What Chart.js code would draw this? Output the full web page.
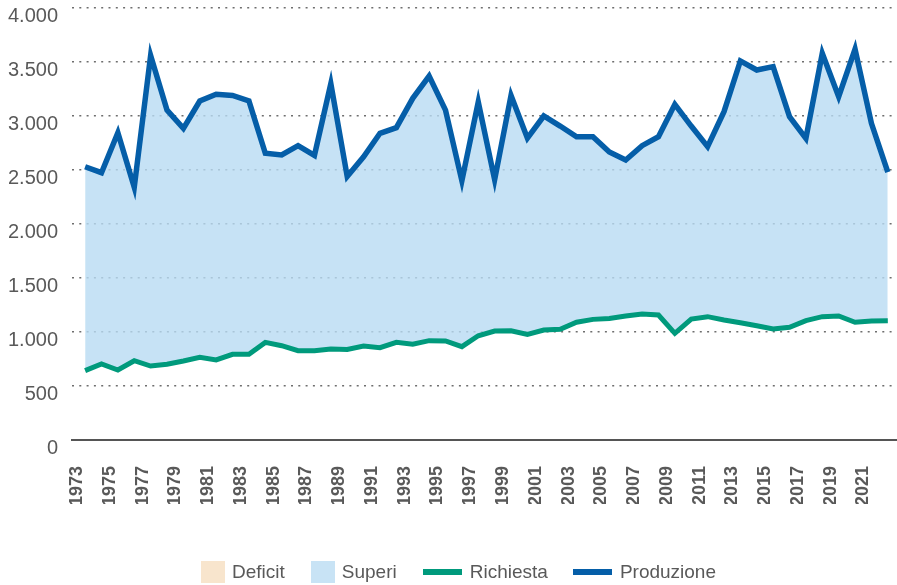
<!DOCTYPE html>
<html>
<head>
<meta charset="utf-8">
<script src="https://cdn.jsdelivr.net/npm/chart.js@4"></script>
<style>
    body { margin: 0; background: #fff; }
    #wrap { position: relative; width: 897px; height: 585px; }
    #legend {
        position: absolute; left: 201px; top: 561px; height: 22px;
        display: flex; align-items: center;
        font: 19px "Liberation Sans", Arial, sans-serif; color: #595959;
    }
    .item { display: flex; align-items: center; }
    .box { width: 24px; height: 22px; margin-right: 7px; }
    .line { width: 39px; height: 6px; margin-right: 8px; }
</style>
</head>
<body>
<div id="wrap">
    <canvas id="myChart"></canvas>
    <div id="legend"></div>
</div>
<script>
// anni 1973 - 2022
const years = [1973, 1974, 1975, 1976, 1977, 1978, 1979, 1980, 1981, 1982,
    1983, 1984, 1985, 1986, 1987, 1988, 1989, 1990, 1991, 1992,
    1993, 1994, 1995, 1996, 1997, 1998, 1999, 2000, 2001, 2002,
    2003, 2004, 2005, 2006, 2007, 2008, 2009, 2010, 2011, 2012,
    2013, 2014, 2015, 2016, 2017, 2018, 2019, 2020, 2021, 2022];

const produzione = [2530, 2475, 2845, 2340, 3560, 3055, 2886, 3139, 3201, 3190,
    3140, 2655, 2640, 2725, 2635, 3300, 2440, 2623, 2840, 2892,
    3164, 3370, 3055, 2400, 3130, 2410, 3190, 2795, 3000, 2907,
    2808, 2808, 2667, 2593, 2725, 2808, 3108, 2907, 2716, 3040,
    3510, 3426, 3457, 2994, 2793, 3580, 3179, 3620, 2932, 2480];

const richiesta = [642, 704, 648, 734, 685, 701, 731, 765, 741, 793,
    793, 904, 873, 827, 827, 843, 838, 870, 855, 904,
    886, 920, 917, 864, 965, 1009, 1012, 978, 1018, 1025,
    1090, 1117, 1126, 1148, 1167, 1157, 988, 1120, 1142, 1111,
    1086, 1058, 1028, 1043, 1105, 1142, 1148, 1090, 1102, 1105];

// tick labels sull'asse x (anni dispari)
const tickYears = [1973, 1975, 1977, 1979, 1981, 1983, 1985, 1987, 1989, 1991,
    1993, 1995, 1997, 1999, 2001, 2003, 2005, 2007, 2009, 2011,
    2013, 2015, 2017, 2019, 2021];

const yTicks = [0, 500, 1000, 1500, 2000, 2500, 3000, 3500, 4000];

const colors = {
    deficit: '#f8e5cd',
    superi: 'rgba(184, 219, 243, 0.8)',
    superiLegend: '#c8e3f5',
    richiesta: '#009a7c',
    produzione: '#055ea8',
    text: '#595959'
};

const legendItems = [
    { label: 'Deficit', color: colors.deficit, type: 'box' },
    { label: 'Superi', color: colors.superiLegend, type: 'box' },
    { label: 'Richiesta', color: colors.richiesta, type: 'line' },
    { label: 'Produzione', color: colors.produzione, type: 'line' }
];

function fmt(v) {
    return String(v).replace(/\B(?=(\d{3})+(?!\d))/g, '.');
}

document.addEventListener('DOMContentLoaded', function () {
    const legend = document.getElementById('legend');
    legendItems.forEach((it, i) => {
        const el = document.createElement('div');
        el.className = 'item';
        if (i < legendItems.length - 1) el.style.marginRight = it.type === 'box' ? '26px' : '25px';
        el.innerHTML = '<span class="' + it.type + '" style="background:' + it.color + '"></span><span>' + it.label + '</span>';
        legend.appendChild(el);
    });

    const ctx = document.getElementById('myChart').getContext('2d');
    window.myChart = new Chart(ctx, {
        type: 'line',
        data: {
            datasets: [
                {
                    label: 'Produzione',
                    data: years.map((y, i) => ({ x: y, y: produzione[i] })),
                    borderColor: colors.produzione,
                    borderWidth: 5.5,
                    borderJoinStyle: 'miter',
                    pointRadius: 0,
                    tension: 0,
                    fill: { target: 1, above: colors.superi, below: colors.deficit }
                },
                {
                    label: 'Richiesta',
                    data: years.map((y, i) => ({ x: y, y: richiesta[i] })),
                    borderColor: colors.richiesta,
                    borderWidth: 5,
                    borderJoinStyle: 'miter',
                    pointRadius: 0,
                    tension: 0,
                    fill: false
                }
            ]
        },
        options: {
            responsive: true,
            maintainAspectRatio: false,
            animation: false,
            layout: { autoPadding: false, padding: { left: 8, right: 1, top: 8, bottom: 81 } },
            plugins: {
                legend: { display: false },
                tooltip: { enabled: false },
                filler: { drawTime: 'beforeDatasetsDraw' }
            },
            scales: {
                x: {
                    type: 'linear',
                    min: 1972.2,
                    max: 2022.5,
                    afterBuildTicks: function (scale) {
                        scale.ticks = tickYears.map(v => ({ value: v }));
                    },
                    afterFit: function (scale) {
                        scale.height = 64;
                        scale.paddingLeft = 0;
                        scale.paddingRight = 0;
                    },
                    grid: { display: false, drawTicks: false },
                    border: { display: true, color: '#555', width: 2 },
                    ticks: {
                        autoSkip: false,
                        minRotation: 90,
                        maxRotation: 90,
                        padding: 26,
                        labelOffset: -8,
                        color: colors.text,
                        font: { family: 'Liberation Sans', size: 18, weight: 'bold' },
                        callback: function (value) {
                            return String(value);
                        }
                    }
                },
                y: {
                    min: 0,
                    max: 4000,
                    afterBuildTicks: function (scale) {
                        scale.ticks = yTicks.map(v => ({ value: v }));
                    },
                    afterFit: function (scale) {
                        scale.width = 64;
                        scale.paddingTop = 0;
                        scale.paddingBottom = 0;
                    },
                    grid: {
                        drawTicks: false,
                        lineWidth: 1.5,
                        color: function (c) {
                            return c.tick && c.tick.value === 0 ? 'rgba(0,0,0,0)' : '#6e6e6e';
                        }
                    },
                    border: { display: false, dash: [2, 5.3] },
                    ticks: {
                        padding: 14,
                        labelOffset: 8,
                        color: colors.text,
                        font: { family: 'Liberation Sans', size: 20 },
                        callback: function (value) {
                            return fmt(value);
                        }
                    }
                }
            }
        }
    });
});
</script>
</body>
</html>
